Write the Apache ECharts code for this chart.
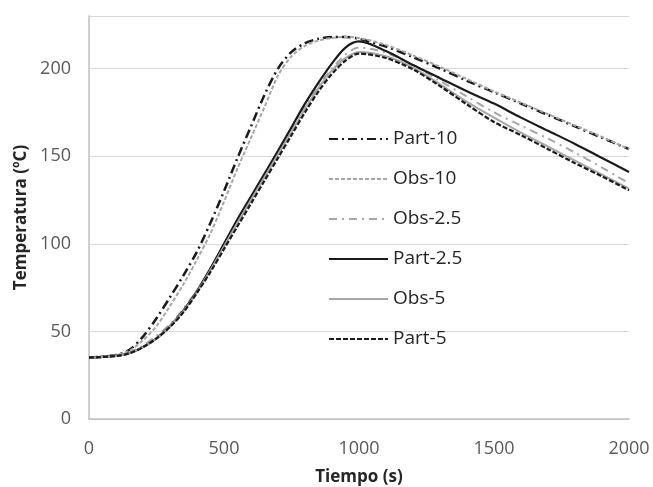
<!DOCTYPE html>
<html>
<head>
<meta charset="utf-8">
<script src="https://cdn.jsdelivr.net/npm/echarts@6/dist/echarts.min.js"></script>
<style>html,body{margin:0;padding:0;background:#fff}#c{width:653px;height:487px}</style>
</head>
<body>
<div id="c"></div>
<script>
const time = [0,100,150,200,250,300,350,400,450,500,550,600,650,700,750,800,850,900,950,1000,1100,1200,1300,1400,1500,1600,1700,1800,1900,2000];
const part10 = [35,36.5,39.5,47,57.5,69.5,82,95.5,112,130,149,167,185,200,209.5,214.5,217,218,218,217,212.5,206.5,200,193,186.5,180,173.5,167,160.5,154];
const obs10  = [35,36.5,39,45,53,64.5,77,91,106,124,143,160.5,178,196,207,213,216,217.5,218,217.5,213.5,207.5,201,194,187,180.5,174,167.5,161,154];
const obs25  = [35,36,38,42,47.5,54,63,73.5,86,99,112.5,126,139,152,165,178,190,200,208,212,209,202,193,184,175,167.5,160,152,143.5,134.5];
const part25 = [35,36,37.5,41,46,53,62,73,86,100,114,127,140,153,166.5,180,192,203,212,215.5,210,202,194.5,187,180,172,164.5,157,149,141];
const obs5   = [35,36,37.5,41,46,53,61.5,72.5,85,98.5,112,125,138,151,164,177,189,199,206,209.5,207,200.5,191,181,172,163.5,155.5,147.5,139.5,131.5];
const part5  = [35,36,37.5,41,46,52.5,61,72,84,97,110,123,136,149,162,175,187,197,204.5,208.5,206,199.5,190,179.5,169.5,162,154,146,138.5,130.5];
const xTicks = [0,500,1000,1500,2000];
const yTicks = [0,50,100,150,200];

const pair = arr => time.map((t,i)=>[t,arr[i]]);
const BLACK = '#1a1a1a', GRAY = '#a6a6a6';
function mk(name, arr, color, width, type){
  return {name, type:'line', data:pair(arr), smooth:0.3, symbol:'none', showSymbol:false,
    lineStyle:{color, width, type}, itemStyle:{color}, emphasis:{disabled:true}};
}
const series = [
  mk('Part-10', part10, BLACK, 2.5, [9,4,2,4]),
  mk('Obs-10', obs10, GRAY, 2, [4,2]),
  mk('Obs-2.5', obs25, GRAY, 2, [8,5,2,5]),
  mk('Part-2.5', part25, BLACK, 2.2, 'solid'),
  mk('Obs-5', obs5, GRAY, 2, 'solid'),
  mk('Part-5', part5, BLACK, 2.2, [5,2])
];
const chart = echarts.init(document.getElementById('c'), null, {renderer:'canvas'});
chart.setOption({
  animation:false,
  backgroundColor:'#fff',
  grid:{left:89, right:24, top:16, bottom:68, containLabel:false, outerBoundsMode:'none'},
  legend:{
    orient:'vertical', left:328, top:129, padding:0, itemWidth:59, itemHeight:20, itemGap:20,
    itemStyle:{opacity:0},
    textStyle:{fontFamily:'Open Sans', fontSize:19, color:'#262626', lineHeight:20},
    data:series.map(s=>s.name)
  },
  xAxis:{
    type:'value', min:0, max:2000, interval:500,
    name:'Tiempo (s)', nameLocation:'middle', nameGap:50,
    nameTextStyle:{fontFamily:'Open Sans', fontSize:17, fontWeight:'bold', color:'#262626'},
    axisLine:{show:true, lineStyle:{color:'#bfbfbf', width:1.5}},
    axisTick:{show:false},
    splitLine:{show:false},
    axisLabel:{fontFamily:'Open Sans', fontSize:18, color:'#595959', margin:21,
      formatter:v=> xTicks.includes(v)? String(v):''}
  },
  yAxis:{
    type:'value', min:0, max:230, interval:50,
    name:'Temperatura (ºC)', nameLocation:'middle', nameGap:59,
    nameTextStyle:{fontFamily:'Open Sans', fontSize:17, fontWeight:'bold', color:'#262626'},
    axisLine:{show:true, lineStyle:{color:'#bfbfbf', width:1.5}},
    axisTick:{show:false},
    splitLine:{show:true, lineStyle:{color:'#d9d9d9', width:1}},
    axisLabel:{fontFamily:'Open Sans', fontSize:18, color:'#595959', margin:18,
      formatter:v=> yTicks.includes(v)? String(v):'' , showMaxLabel:false}
  },
  series
});
</script>
</body>
</html>
